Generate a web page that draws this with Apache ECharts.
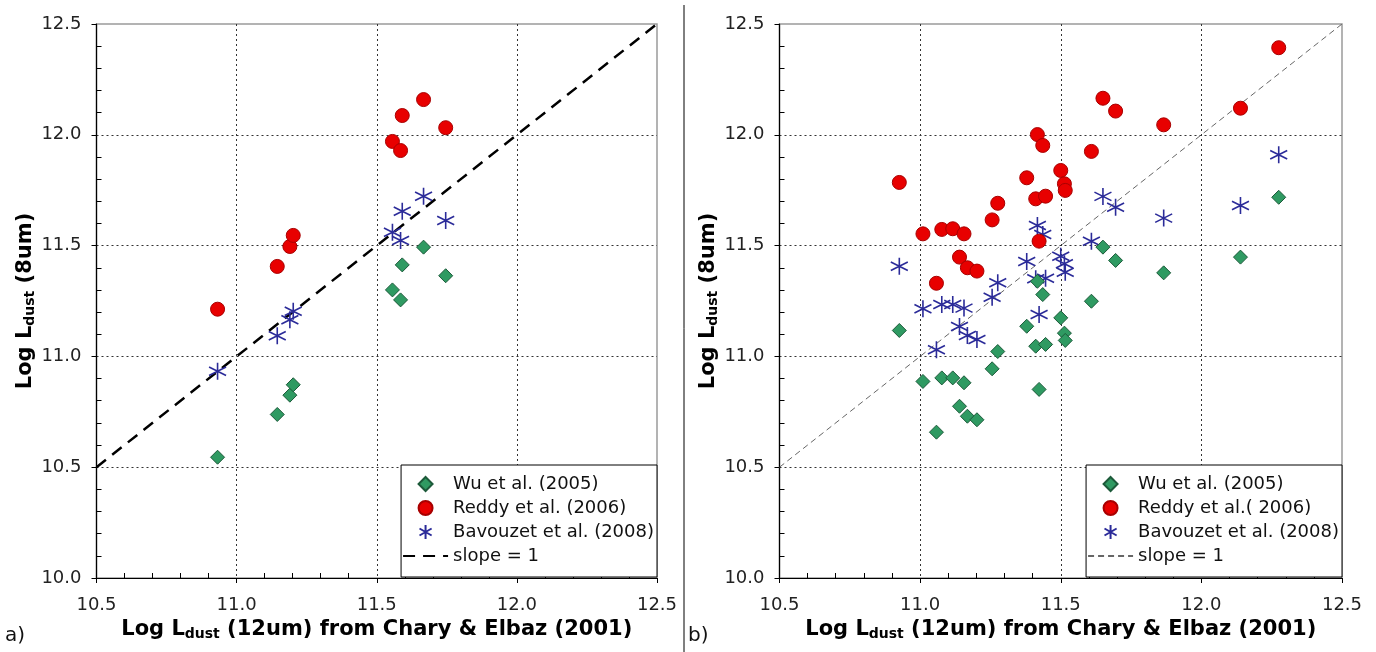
<!DOCTYPE html>
<html>
<head>
<meta charset="utf-8">
<title>Log L_dust (8um) vs Log L_dust (12um)</title>
<script src="https://cdn.jsdelivr.net/npm/echarts@6/dist/echarts.min.js"></script>
<style>
  html, body { margin: 0; padding: 0; background: #ffffff; }
  #chart { width: 1376px; height: 652px; }
</style>
</head>
<body>
<div id="chart"></div>
<script>
// ---- Panel a) : 12um-based luminosity (x) shared by the three samples ----
const xA = [10.932, 11.145, 11.190, 11.202, 11.556, 11.585, 11.591, 11.667, 11.746];
const wuA = [10.545, 10.738, 10.825, 10.872, 11.300, 11.255, 11.413, 11.493, 11.364];
const reddyA = [11.213, 11.406, 11.496, 11.546, 11.970, 11.929, 12.087, 12.159, 12.032];
const bavouzetA = [10.933, 11.093, 11.165, 11.204, 11.560, 11.523, 11.655, 11.723, 11.613];

// ---- Panel b) ----
const xB = [10.926, 11.010, 11.058, 11.077, 11.116, 11.140, 11.156, 11.168, 11.202, 11.256,
            11.276, 11.379, 11.411, 11.417, 11.423, 11.436, 11.446, 11.500, 11.513, 11.516,
            11.609, 11.650, 11.695, 11.866, 12.139, 12.275];
const wuB = [11.117, 10.887, 10.658, 10.903, 10.903, 10.775, 10.881, 10.730, 10.714, 10.944,
             11.022, 11.136, 11.046, 11.339, 10.851, 11.279, 11.054, 11.174, 11.105, 11.072,
             11.249, 11.493, 11.433, 11.377, 11.448, 11.718];
const reddyB = [11.785, 11.553, 11.330, 11.573, 11.576, 11.448, 11.553, 11.400, 11.385, 11.616,
                11.691, 11.806, 11.711, 12.001, 11.520, 11.952, 11.723, 11.839, 11.779, 11.749,
                11.925, 12.165, 12.107, 12.045, 12.120, 12.393];
const bavouzetB = [11.407, 11.215, 11.030, 11.234, 11.234, 11.135, 11.218, 11.094, 11.076, 11.267,
                   11.332, 11.428, 11.350, 11.591, 11.189, 11.550, 11.353, 11.452, 11.418, 11.380,
                   11.520, 11.722, 11.673, 11.624, 11.681, 11.910];

// one-to-one reference line
const slopeOne = [10.5, 12.5];

// axis range and tick step (both axes)
const xRange = [10.5, 12.5];
const yRange = [10.0, 12.5];
const tickStep = 0.5;

const FONT = 'DejaVu Sans';
const pairs = (xs, ys) => xs.map((x, i) => [x, ys[i]]);

// marker shapes
const diamondPath = 'path://M0,-1L1,0L0,1L-1,0Z';
const starPath = 'path://M0,-1L0,1M-0.866,-0.5L0.866,0.5M-0.866,0.5L0.866,-0.5';

const titleRich = {
  b: { fontFamily: FONT, fontSize: 21, fontWeight: 'bold', color: '#000', lineHeight: 23 },
  s: { fontFamily: FONT, fontSize: 14, fontWeight: 'bold', color: '#000', lineHeight: 10, verticalAlign: 'bottom' }
};

function xAxisFor(gridIndex) {
  return {
    type: 'value', gridIndex, min: xRange[0], max: xRange[1], interval: tickStep,
    name: '{b|Log L}{s|dust}{b| (12um) from Chary & Elbaz (2001)}',
    nameLocation: 'middle', nameGap: 39,
    nameTextStyle: { rich: titleRich },
    axisLine: { show: true, onZero: false, lineStyle: { color: '#000', width: 1.2 } },
    axisTick: { show: true, length: 5, lineStyle: { color: '#000' } },
    minorTick: { show: true, splitNumber: 5, length: -5, lineStyle: { color: '#000' } },
    axisLabel: { fontFamily: FONT, fontSize: 18, color: '#222', margin: 18,
                 formatter: v => v.toFixed(1) },
    splitLine: { show: true, showMinLine: false, showMaxLine: false,
                 lineStyle: { color: '#333', width: 1, type: [2, 3] } },
    minorSplitLine: { show: false }
  };
}

function yAxisFor(gridIndex) {
  return {
    type: 'value', gridIndex, min: yRange[0], max: yRange[1], interval: tickStep,
    name: '{b|Log L}{s|dust}{b| (8um)}',
    nameLocation: 'middle', nameGap: 55, nameRotate: 90,
    nameTextStyle: { rich: titleRich },
    axisLine: { show: true, onZero: false, lineStyle: { color: '#000', width: 1.2 } },
    axisTick: { show: true, length: 5, lineStyle: { color: '#000' } },
    minorTick: { show: true, splitNumber: 5, length: -5, lineStyle: { color: '#000' } },
    axisLabel: { fontFamily: FONT, fontSize: 18, color: '#222', margin: 15,
                 formatter: v => v.toFixed(1) },
    splitLine: { show: true, showMinLine: false, showMaxLine: false,
                 lineStyle: { color: '#333', width: 1, type: [2, 3] } },
    minorSplitLine: { show: false }
  };
}

const wuStyle = { symbol: diamondPath, symbolSize: 14,
  itemStyle: { color: '#2f9a62', borderColor: '#1d5a3a', borderWidth: 1, opacity: 1 } };
const reddyStyle = { symbol: 'circle', symbolSize: 14,
  itemStyle: { color: '#e80000', borderColor: '#a80000', borderWidth: 1, opacity: 1 } };
const bavouzetStyle = { symbol: starPath, symbolSize: 17,
  itemStyle: { color: 'rgba(0,0,0,0)', borderColor: '#2b2b99', borderWidth: 1.6, opacity: 1 } };

function scatter(name, gi, xs, ys, style) {
  return Object.assign({ type: 'scatter', name, xAxisIndex: gi, yAxisIndex: gi,
    data: pairs(xs, ys), z: 3, emphasis: { disabled: true } }, style);
}

function slope(name, gi, lineStyle) {
  return { type: 'line', name, xAxisIndex: gi, yAxisIndex: gi,
    data: slopeOne.map(v => [v, v]), symbol: 'none', silent: true, z: 2,
    lineStyle, itemStyle: { color: lineStyle.color } };
}

const slopeNameB = 'slope = 1\u00a0';

// legend entry for a dashed line: keep the line, hide the marker dot
const lineEntry = name => ({ name, itemStyle: { color: 'rgba(0,0,0,0)', borderWidth: 0, opacity: 0 } });

const legendCommon = {
  orient: 'vertical', top: 465,
  itemWidth: 45, itemHeight: 14, itemGap: 6,
  padding: [10, 3, 12, 1],
  borderColor: '#000', borderWidth: 1, backgroundColor: '#fff',
  symbolKeepAspect: true,
  textStyle: { fontFamily: FONT, fontSize: 18, color: '#111' },
  selectedMode: false, z: 10
};

const option = {
  animation: false,
  backgroundColor: '#ffffff',
  grid: [
    { left: 96.5, top: 24, width: 560.5, height: 554, containLabel: false, outerBoundsMode: 'none',
      show: true, borderColor: '#9a9a9a', borderWidth: 1.5, backgroundColor: 'transparent' },
    { left: 779.5, top: 24, width: 562.5, height: 554, containLabel: false, outerBoundsMode: 'none',
      show: true, borderColor: '#9a9a9a', borderWidth: 1.5, backgroundColor: 'transparent' }
  ],
  xAxis: [xAxisFor(0), xAxisFor(1)],
  yAxis: [yAxisFor(0), yAxisFor(1)],
  legend: [
    Object.assign({}, legendCommon, { right: 719,
      data: ['Wu et al. (2005)', 'Reddy et al. (2006)', 'Bavouzet et al. (2008)', lineEntry('slope = 1')] }),
    Object.assign({}, legendCommon, { right: 34,
      data: ['Wu et al. (2005)', 'Reddy et al.( 2006)', 'Bavouzet et al. (2008)', lineEntry(slopeNameB)] })
  ],
  series: [
    slope('slope = 1', 0, { color: '#000', width: 2.5, type: [12, 8] }),
    scatter('Bavouzet et al. (2008)', 0, xA, bavouzetA, bavouzetStyle),
    scatter('Wu et al. (2005)', 0, xA, wuA, wuStyle),
    scatter('Reddy et al. (2006)', 0, xA, reddyA, reddyStyle),

    slope(slopeNameB, 1, { color: '#666', width: 1, type: [6, 4] }),
    scatter('Bavouzet et al. (2008)', 1, xB, bavouzetB, bavouzetStyle),
    scatter('Wu et al. (2005)', 1, xB, wuB, wuStyle),
    scatter('Reddy et al.( 2006)', 1, xB, reddyB, reddyStyle)
  ],
  graphic: [
    { type: 'line', shape: { x1: 684, y1: 5, x2: 684, y2: 652 },
      style: { stroke: '#000', lineWidth: 1 }, silent: true },
    { type: 'text', left: 5, top: 626,
      style: { text: 'a)', font: '20px "DejaVu Sans"', fill: '#111' } },
    { type: 'text', left: 688, top: 626,
      style: { text: 'b)', font: '20px "DejaVu Sans"', fill: '#111' } }
  ]
};

const chart = echarts.init(document.getElementById('chart'), null, { renderer: 'canvas' });
chart.setOption(option);
</script>
</body>
</html>
